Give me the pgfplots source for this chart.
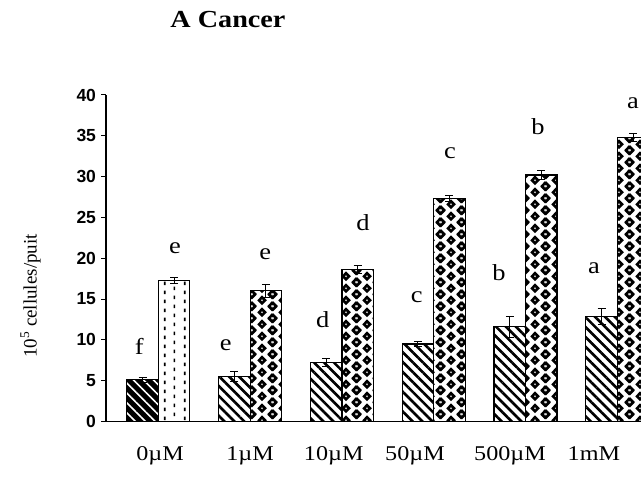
\documentclass[border=0pt]{standalone}
\usepackage{pgfplots}
\pgfplotsset{compat=1.18}
\usepackage{fontspec}
\setmainfont[FakeStretch=1.15]{Liberation Serif}
\newfontfamily\uprightserif{Liberation Serif}
\setsansfont{Liberation Sans}
\usetikzlibrary{patterns,patterns.meta}

% staggered vertical dashes
\pgfdeclarepatternformonly{vdashes}{\pgfpointorigin}{\pgfqpoint{20bp}{9bp}}{\pgfqpoint{20bp}{9bp}}{%
  \pgfpathrectangle{\pgfqpoint{4bp}{1bp}}{\pgfqpoint{1.7bp}{3.8bp}}%
  \pgfpathrectangle{\pgfqpoint{14bp}{5.5bp}}{\pgfqpoint{1.7bp}{3.8bp}}%
  \pgfusepath{fill}}

% staggered diamonds with a small hollow centre
\newcommand\dmd[3]{%
  \pgfpathmoveto{\pgfpoint{#1-#3}{#2}}%
  \pgfpathlineto{\pgfpoint{#1}{#2+#3}}%
  \pgfpathlineto{\pgfpoint{#1+#3}{#2}}%
  \pgfpathlineto{\pgfpoint{#1}{#2-#3}}%
  \pgfpathclose}
\newcommand\hdmd[2]{\dmd{#1}{#2}{5bp}\dmd{#1}{#2}{1.2bp}}
\pgfdeclarepatternformonly{diamonds}{\pgfpointorigin}{\pgfqpoint{21bp}{11.7bp}}{\pgfqpoint{21bp}{11.7bp}}{%
  \pgfseteorule
  \hdmd{0bp}{0bp}\hdmd{21bp}{0bp}\hdmd{0bp}{11.7bp}\hdmd{21bp}{11.7bp}%
  \hdmd{10.5bp}{5.85bp}%
  \pgfusepath{fill}}

\pgfplotsset{
  errstyle/.style={
    error bars/.cd, y dir=both, y explicit,
    error bar style={line width=1bp, black},
    error mark options={rotate=90, mark size=4bp, line width=1bp, black}},
  barbase/.style={ybar, bar width=0.343, bar shift=0, draw=black, line width=1.2bp},
}

\begin{document}
\begin{tikzpicture}
\useasboundingbox (0,0) rectangle (641bp,484bp);
\clip (0,0) rectangle (641bp,484bp);

\node[anchor=base, font=\fontsize{24.5bp}{28bp}\selectfont\bfseries] at (228bp,456.3bp) {A Cancer};

\begin{axis}[
  at={(106bp,62.5bp)}, anchor=south west,
  scale only axis, width=552.6bp, height=326.5bp,
  xmin=-0.57, xmax=5.45, ymin=0, ymax=40,
  axis x line*=bottom, axis y line*=left,
  axis line style={line width=1.4bp},
  ytick={0,5,...,40}, tick align=outside, major tick length=5bp,
  ytick style={line width=1bp, black},
  /pgf/number format/assume math mode=true,
  yticklabel style={font=\fontsize{17.5bp}{19bp}\sffamily\bfseries, xshift=-1.5bp},
  xtick={0.019,0.999,1.911,2.796,3.831,4.745},
  xticklabels={0µM,1µM,10µM,50µM,500µM,1mM},
  xtick style={draw=none},
  xticklabel style={font=\fontsize{21bp}{24bp}\selectfont, anchor=base, yshift=-33.5bp},
  ylabel={10\textsuperscript{5} cellules/puit},
  ylabel style={font=\fontsize{19bp}{21bp}\uprightserif,
    at={(axis description cs:-0.1254,0.3844)}, anchor=base},
  clip=false,
]
% control, first series (bars sit left of each group centre)
\addplot[barbase, preaction={fill=black},
  pattern={Lines[angle=-45,distance=7bp,line width=1.6bp]}, pattern color=white, errstyle]
  coordinates {(-0.1715,5.1) +- (0,0.35)};
% control, second series (bars sit right of each group centre)
\addplot[barbase, preaction={fill=white},
  pattern=vdashes, pattern color=black, errstyle]
  coordinates {(0.1715,17.3) +- (0,0.4)};
% treated, first series
\addplot[barbase, preaction={fill=white},
  pattern={Lines[angle=-45,distance=7bp,line width=2.6bp]}, pattern color=black, errstyle]
  coordinates {(0.8285,5.5) +- (0,0.6) (1.8285,7.2) +- (0,0.5) (2.8285,9.5) +- (0,0.35)
               (3.8285,11.6) +- (0,1.3) (4.8285,12.9) +- (0,1.0)};
% treated, second series
\addplot[barbase, preaction={fill=white},
  pattern=diamonds, pattern color=black, errstyle]
  coordinates {(1.1715,16.0) +- (0,0.8) (2.1715,18.65) +- (0,0.5) (3.1715,27.3) +- (0,0.4)
               (4.1715,30.2) +- (0,0.6) (5.1715,34.8) +- (0,0.5)};

% significance letters
\begin{scope}[every node/.style={font=\fontsize{23bp}{25bp}\selectfont, inner sep=0pt, anchor=center}]
\node at (axis cs:-0.207,9.16) {f};
\node at (axis cs:0.182,21.26) {e};
\node at (axis cs:0.734,9.37) {e};
\node at (axis cs:1.165,20.5) {e};
\node at (axis cs:1.791,12.43) {d};
\node at (axis cs:2.230,24.32) {d};
\node at (axis cs:2.815,15.29) {c};
\node at (axis cs:3.178,32.93) {c};
\node at (axis cs:3.711,18.19) {b};
\node at (axis cs:4.136,36.12) {b};
\node at (axis cs:4.746,18.81) {a};
\node at (axis cs:5.171,39.02) {a};
\end{scope}
\end{axis}
\end{tikzpicture}
\end{document}
